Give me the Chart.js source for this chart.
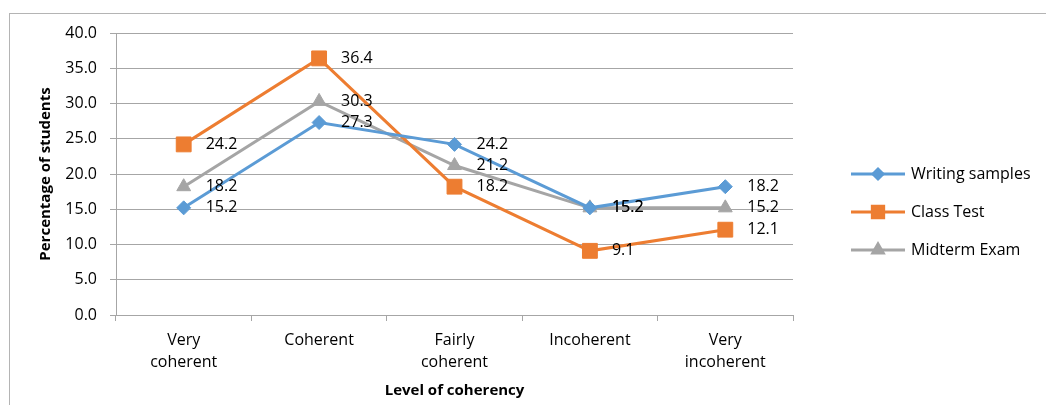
<!DOCTYPE html>
<html>
<head>
<meta charset="utf-8">
<script src="https://cdn.jsdelivr.net/npm/chart.js@4"></script>
<style>
  body { margin: 0; background: #fff; }
  canvas { display: block; }
</style>
</head>
<body>
<canvas id="chart" width="1046" height="405"></canvas>
<script>
// Data
const categories = [["Very", "coherent"], "Coherent", ["Fairly", "coherent"], "Incoherent", ["Very", "incoherent"]];
const writingSamples = [15.2, 27.3, 24.2, 15.2, 18.2];
const classTest = [24.2, 36.4, 18.2, 9.1, 12.1];
const midtermExam = [18.2, 30.3, 21.2, 15.2, 15.2];
const yTicks = [0, 5, 10, 15, 20, 25, 30, 35, 40];

const FONT = "'Open Sans', sans-serif";
const GRID = "#A6A6A6";

// Excel-like value labels to the right of each point
const valueLabels = {
    id: "valueLabels",
    afterDatasetsDraw(chart) {
        const ctx = chart.ctx;
        ctx.save();
        ctx.font = "16px " + FONT;
        ctx.fillStyle = "#000";
        ctx.textAlign = "left";
        ctx.textBaseline = "middle";
        chart.data.datasets.forEach((ds, i) => {
            chart.getDatasetMeta(i).data.forEach((pt, j) => {
                ctx.fillText(ds.data[j].toFixed(1), pt.x + 22, pt.y);
            });
        });
        ctx.restore();
    }
};

// Outer frame and legend on the right
const frameAndLegend = {
    id: "frameAndLegend",
    beforeDraw(chart) {
        const ctx = chart.ctx;
        ctx.save();
        ctx.strokeStyle = "#B4B4B4";
        ctx.lineWidth = 1;
        ctx.strokeRect(9.5, 13.5, 1200, 600);
        ctx.restore();
    },
    afterDraw(chart) {
        const ctx = chart.ctx;
        ctx.save();
        chart.data.datasets.forEach((ds, i) => {
            const y = 174 + i * 38;
            ctx.strokeStyle = ds.borderColor;
            ctx.lineWidth = 3;
            ctx.beginPath();
            ctx.moveTo(851, y);
            ctx.lineTo(905, y);
            ctx.stroke();
            ctx.fillStyle = ds.borderColor;
            Chart.helpers.drawPoint(ctx, {
                pointStyle: ds.pointStyle,
                radius: ds.legendRadius,
                rotation: 0,
                borderWidth: 1
            }, 878, y);
            ctx.fill();
            ctx.fillStyle = "#000";
            ctx.font = "16px " + FONT;
            ctx.textAlign = "left";
            ctx.textBaseline = "middle";
            ctx.fillText(ds.label, 911, y);
        });
        ctx.restore();
    }
};

new Chart(document.getElementById("chart"), {
    type: "line",
    data: {
        labels: categories,
        datasets: [
            {
                label: "Writing samples",
                data: writingSamples,
                borderColor: "#5B9BD5",
                backgroundColor: "#5B9BD5",
                pointStyle: "rectRot",
                pointRadius: 7,
                legendRadius: 5,
            },
            {
                label: "Class Test",
                data: classTest,
                borderColor: "#ED7D31",
                backgroundColor: "#ED7D31",
                pointStyle: "rect",
                pointRadius: 10.5,
                legendRadius: 8,
            },
            {
                label: "Midterm Exam",
                data: midtermExam,
                borderColor: "#A5A5A5",
                backgroundColor: "#A5A5A5",
                pointStyle: "triangle",
                pointRadius: 8,
                legendRadius: 6,
            },
        ],
    },
    options: {
        responsive: false,
        animation: false,
        events: [],
        datasets: {
            line: { borderWidth: 3, tension: 0, pointBorderWidth: 1 }
        },
        layout: { padding: { left: 37, right: 253, top: 33, bottom: 5 } },
        plugins: {
            legend: { display: false },
            tooltip: { enabled: false },
        },
        scales: {
            x: {
                offset: true,
                grid: {
                    offset: true,
                    drawOnChartArea: false,
                    tickLength: 6,
                    color: GRID,
                },
                border: { color: GRID },
                ticks: {
                    color: "#000",
                    font: { family: FONT, size: 16, lineHeight: 1.375 },
                    maxRotation: 0,
                    padding: 8,
                },
                title: {
                    display: true,
                    text: "Level of coherency",
                    color: "#000",
                    font: { family: FONT, size: 15, weight: "bold", lineHeight: 1.2 },
                    padding: 0,
                },
                afterFit(scale) { scale.height = 85; },
            },
            y: {
                min: 0,
                max: 40,
                afterBuildTicks(scale) { scale.ticks = yTicks.map(v => ({ value: v })); },
                grid: { tickLength: 6, color: GRID },
                border: { color: GRID },
                ticks: {
                    color: "#000",
                    font: { family: FONT, size: 16 },
                    padding: 13,
                    callback: v => v.toFixed(1),
                },
                title: {
                    display: true,
                    text: "Percentage of students",
                    color: "#000",
                    font: { family: FONT, size: 15, weight: "bold", lineHeight: 1.2 },
                    padding: 0,
                },
                afterFit(scale) { scale.width = 79; },
            },
        },
    },
    plugins: [valueLabels, frameAndLegend],
});
</script>
</body>
</html>
